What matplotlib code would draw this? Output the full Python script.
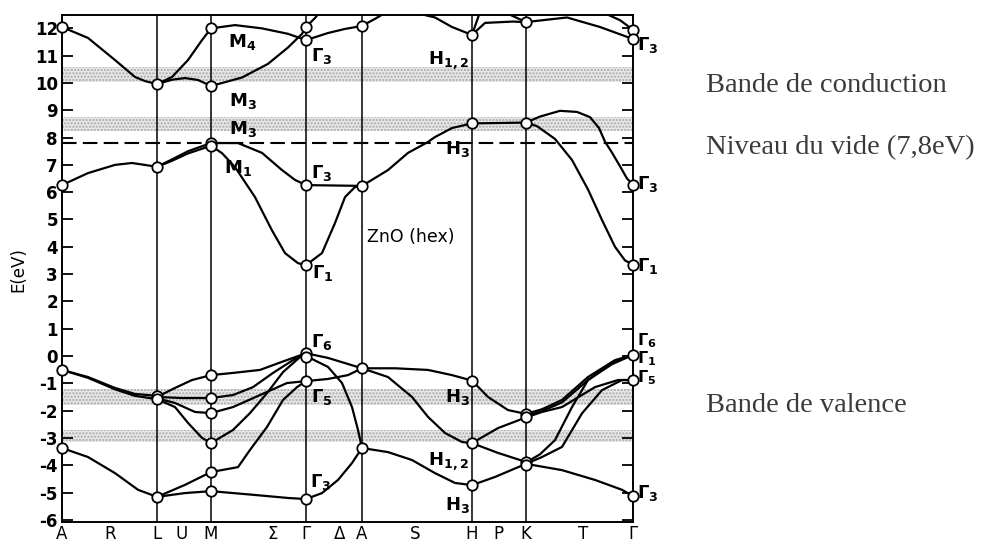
import matplotlib
matplotlib.use("Agg")
import matplotlib.pyplot as plt

plt.rcParams['font.family'] = ['DejaVu Sans']
plt.rcParams['mathtext.fontset'] = 'dejavusans'
plt.rcParams['axes.unicode_minus'] = False

# ---------------- data ----------------
# high-symmetry points along the k-path (arbitrary path units)
sym_k = [0, 95, 149, 244, 300, 410, 464, 571]
xtick_k = [0, 48, 95, 120, 149, 211, 244, 278, 300, 353, 410, 436, 464, 521, 571]
xtick_labels = ['A', 'R', 'L', 'U', 'M', 'Σ', 'Γ', 'Δ', 'A', 'S', 'H', 'P', 'K', 'T', 'Γ']
yticks = list(range(-6, 13))
vacuum_level = 7.8
stipple_bands = [(10.05, 10.6), (8.25, 8.75), (-1.8, -1.2), (-3.15, -2.7)]

seg_A_L = [
    [(0, 12.05), (26, 11.65), (53, 10.84), (73, 10.22), (83, 10.07), (95, 9.96)],
    [(0, 6.26), (26, 6.70), (53, 7.0), (70, 7.07), (95, 6.93)],
    [(0, -0.51), (26, -0.77), (53, -1.17), (73, -1.39), (95, -1.46)],
    [(0, -0.51), (26, -0.80), (53, -1.22), (73, -1.46), (95, -1.58)],
    [(0, -3.37), (26, -3.70), (53, -4.29), (76, -4.90), (95, -5.16)],
]
seg_L_M = [
    [(95, 9.96), (110, 10.22), (126, 10.84), (140, 11.57), (149, 12.0)],
    [(95, 9.96), (110, 10.12), (123, 10.18), (136, 10.11), (149, 9.89)],
    [(95, 6.93), (110, 7.20), (126, 7.50), (149, 7.80)],
    [(95, 6.93), (110, 7.15), (126, 7.42), (149, 7.70)],
    [(95, -1.50), (113, -1.17), (130, -0.88), (149, -0.70)],
    [(95, -1.50), (120, -1.54), (149, -1.54)],
    [(95, -1.55), (113, -1.72), (133, -2.05), (149, -2.09)],
    [(95, -1.58), (113, -1.87), (126, -2.45), (140, -3.0), (149, -3.19)],
    [(95, -5.16), (123, -5.02), (149, -4.95)],
    [(95, -5.16), (123, -4.72), (149, -4.25)],
]
seg_M_G = [
    [(149, 12.0), (173, 12.12), (200, 12.0), (226, 11.8), (244, 11.57)],
    [(149, 9.89), (180, 10.2), (206, 10.7), (226, 11.3), (240, 11.8), (244, 12.05)],
    [(149, 7.80), (176, 7.80), (200, 7.44), (220, 6.81), (233, 6.45), (244, 6.26)],
    [(149, 7.70), (160, 7.43), (173, 6.92), (193, 5.82), (210, 4.60), (223, 3.77), (236, 3.40), (244, 3.33)],
    [(149, -0.70), (171, -0.62), (198, -0.51), (221, -0.20), (244, 0.10)],
    [(149, -1.54), (171, -1.43), (191, -1.14), (211, -0.62), (231, -0.15), (244, 0.08)],
    [(149, -2.09), (171, -1.87), (198, -1.43), (225, -0.99), (244, -0.92)],
    [(149, -3.19), (171, -2.71), (188, -2.09), (205, -1.36), (221, -0.59), (238, -0.04), (244, 0.05)],
    [(149, -4.25), (176, -4.07), (188, -3.44), (205, -2.60), (221, -1.61), (235, -1.14), (244, -0.92)],
    [(149, -4.95), (193, -5.09), (226, -5.20), (244, -5.24)],
]
seg_G_A = [
    [(244, 11.57), (266, 11.83), (283, 11.98), (300, 12.09)],
    [(244, 12.05), (253, 12.38), (258, 12.6)],
    [(244, 6.26), (300, 6.23)],
    [(244, 3.33), (260, 3.77), (273, 4.87), (283, 5.82), (293, 6.19), (300, 6.23)],
    [(244, 0.10), (266, -0.07), (283, -0.26), (300, -0.45)],
    [(244, -0.92), (266, -0.84), (286, -0.70), (300, -0.45)],
    [(244, 0.0), (266, -0.40), (280, -0.99), (290, -1.87), (296, -2.71), (300, -3.37)],
    [(244, -5.24), (260, -5.02), (276, -4.54), (290, -3.92), (300, -3.37)],
]
seg_A_H = [
    [(300, 12.09), (313, 12.35), (320, 12.5)],
    [(350, 12.6), (373, 12.4), (390, 12.05), (410, 11.76)],
    [(300, 6.23), (326, 6.81), (346, 7.44), (366, 7.84), (373, 8.02), (390, 8.35), (410, 8.52)],
    [(300, -0.45), (333, -0.45), (366, -0.51), (390, -0.70), (410, -0.90)],
    [(300, -0.45), (326, -0.77), (350, -1.50), (366, -2.23), (383, -2.82), (400, -3.15), (410, -3.19)],
    [(300, -3.37), (326, -3.52), (350, -3.81), (373, -4.29), (393, -4.65), (410, -4.73)],
]
seg_H_K = [
    [(410, 11.76), (423, 12.2), (451, 12.25), (464, 12.23)],
    [(410, 11.76), (418, 12.6)],
    [(445, 12.55), (464, 12.23)],
    [(410, 8.52), (464, 8.55)],
    [(410, -0.90), (426, -1.50), (446, -1.98), (464, -2.12)],
    [(410, -3.19), (436, -2.64), (464, -2.25)],
    [(410, -3.19), (436, -3.55), (464, -3.88)],
    [(410, -4.73), (433, -4.43), (464, -3.95)],
]
seg_K_G = [
    [(464, 12.23), (505, 12.4), (538, 12.05), (568, 11.65), (571, 11.6)],
    [(540, 12.6), (558, 12.3), (571, 11.95)],
    [(464, 8.55), (478, 8.77), (498, 8.98), (515, 8.94), (528, 8.75), (537, 8.35), (543, 7.85),
     (550, 7.45), (558, 6.95), (565, 6.5), (571, 6.28)],
    [(464, 8.55), (475, 8.42), (493, 7.95), (510, 7.18), (526, 6.10), (540, 4.98), (553, 4.0),
     (563, 3.5), (571, 3.35)],
    [(464, -2.12), (480, -1.95), (500, -1.61), (526, -0.77), (550, -0.22), (571, 0.04)],
    [(464, -2.20), (480, -2.02), (500, -1.70), (526, -0.88), (550, -0.30), (571, 0.04)],
    [(464, -2.25), (480, -2.05), (500, -1.87), (533, -1.14), (556, -0.88), (571, -0.88)],
    [(464, -3.90), (478, -3.60), (493, -3.08), (510, -1.87), (526, -0.88), (553, -0.15), (571, 0.04)],
    [(464, -3.95), (480, -3.70), (500, -3.33), (520, -2.10), (540, -1.25), (560, -0.88), (571, -0.88)],
    [(464, -3.95), (500, -4.18), (533, -4.54), (560, -4.90), (571, -5.13)],
]

node_k = ([0] * 4 + [95] * 5 + [149] * 10 + [244] * 8 + [300] * 4 + [410] * 5 + [464] * 6 + [571] * 7)
node_E = ([12.05, 6.26, -0.51, -3.37] +
          [9.96, 6.93, -1.46, -1.58, -5.16] +
          [12.0, 9.89, 7.80, 7.70, -0.70, -1.54, -2.09, -3.19, -4.25, -4.95] +
          [12.05, 11.57, 6.26, 3.33, 0.10, -0.02, -0.92, -5.24] +
          [12.09, 6.23, -0.45, -3.37] +
          [11.76, 8.52, -0.90, -3.19, -4.73] +
          [12.23, 8.55, -2.12, -2.25, -3.88, -3.99] +
          [11.95, 11.60, 6.28, 3.35, 0.04, -0.88, -5.13])

# state labels: (k, E, text, ha, fontsize)
state_labels = [
    (166, 11.5, r'$\mathbf{M_4}$', 'left', 13),
    (167, 9.35, r'$\mathbf{M_3}$', 'left', 13),
    (167, 8.3, r'$\mathbf{M_3}$', 'left', 13),
    (162, 6.9, r'$\mathbf{M_1}$', 'left', 13),
    (249, 11.0, r'$\mathbf{\Gamma_3}$', 'left', 13),
    (249, 6.7, r'$\mathbf{\Gamma_3}$', 'left', 13),
    (250, 3.05, r'$\mathbf{\Gamma_1}$', 'left', 13),
    (249, 0.5, r'$\mathbf{\Gamma_6}$', 'left', 13),
    (249, -1.5, r'$\mathbf{\Gamma_5}$', 'left', 13),
    (248, -4.6, r'$\mathbf{\Gamma_3}$', 'left', 13),
    (407, 10.85, r'$\mathbf{H_{1,2}}$', 'right', 13),
    (408, 7.6, r'$\mathbf{H_3}$', 'right', 13),
    (408, -1.5, r'$\mathbf{H_3}$', 'right', 13),
    (407, -3.85, r'$\mathbf{H_{1,2}}$', 'right', 13),
    (408, -5.45, r'$\mathbf{H_3}$', 'right', 13),
    (575, 11.4, r'$\mathbf{\Gamma_3}$', 'left', 13),
    (575, 6.3, r'$\mathbf{\Gamma_3}$', 'left', 13),
    (575, 3.3, r'$\mathbf{\Gamma_1}$', 'left', 13),
    (575, 0.55, r'$\mathbf{\Gamma_6}$', 'left', 11.5),
    (575, -0.1, r'$\mathbf{\Gamma_1}$', 'left', 11.5),
    (575, -0.78, r'$\mathbf{\Gamma_5}$', 'left', 11.5),
    (575, -5.0, r'$\mathbf{\Gamma_3}$', 'left', 13),
]
title_text = 'ZnO (hex)'
side_texts = [('Bande de conduction', 85), ('Niveau du vide (7,8eV)', 148), ('Bande de valence', 405)]

# ---------------- drawing ----------------
fig = plt.figure(figsize=(9.86, 5.44), dpi=100)
ax = fig.add_axes([62 / 986, 22 / 544, 571 / 986, 507 / 544])
ax.set_xlim(0, 571)
ax.set_ylim(-6.08, 12.49)

for lo, hi in stipple_bands:
    ax.axhspan(lo, hi, facecolor='#e6e6e6', edgecolor='#a8a8a8', hatch='.....', lw=0, zorder=0)

for k in sym_k[1:-1]:
    ax.axvline(k, color='black', lw=1.1, zorder=1)

ax.axhline(vacuum_level, color='black', lw=1.5, dashes=(7, 3), zorder=2)

for seg in (seg_A_L, seg_L_M, seg_M_G, seg_G_A, seg_A_H, seg_H_K, seg_K_G):
    for curve in seg:
        ks = [p[0] for p in curve]
        es = [p[1] for p in curve]
        ax.plot(ks, es, color='black', lw=1.6, solid_joinstyle='round', solid_capstyle='round', zorder=3)

ax.plot(node_k, node_E, linestyle='none', marker='o', markersize=7.5, markerfacecolor='white',
        markeredgecolor='black', markeredgewidth=1.3, zorder=5, clip_on=False)

for k, e, t, ha, fs in state_labels:
    ax.text(k, e, t, ha=ha, va='center', fontsize=fs, color='black', zorder=6, clip_on=False)

ax.text(305, 4.35, title_text, ha='left', va='center', fontsize=12.5, color='black', zorder=6)

ax.set_yticks(yticks)
ax.set_yticklabels([str(v) for v in yticks], fontsize=12, fontweight='bold')
ax.tick_params(axis='y', direction='in', length=8, width=1.3, left=True, right=True, pad=3)
ax.set_xticks(xtick_k)
ax.set_xticklabels(xtick_labels, fontsize=12)
ax.tick_params(axis='x', length=0, pad=2)
for s in ax.spines.values():
    s.set_linewidth(1.4)

fig.text(18 / 986, 1 - 270 / 544, 'E(eV)', rotation=90, ha='center', va='center', fontsize=12)

for t, y in side_texts:
    fig.text(706 / 986, 1 - y / 544, t, ha='left', va='center', fontsize=20.5,
             family='Liberation Serif', color='#3a3a3a')

fig.savefig('out.png', dpi=100)
